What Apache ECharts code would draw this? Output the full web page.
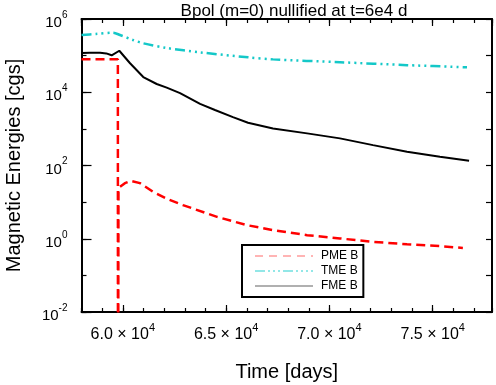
<!DOCTYPE html>
<html>
<head>
<meta charset="utf-8">
<script src="https://cdn.jsdelivr.net/npm/echarts@6/dist/echarts.min.js"></script>
<style>
  html, body { margin: 0; padding: 0; background: #fff; }
  #chart { width: 496px; height: 385px; }
</style>
</head>
<body>
<div id="chart"></div>
<script>
// values
const pmeTime = [58000, 59760, 59765, 59785, 59790, 59860, 60100, 60380, 60830, 61475, 62190, 62910, 64560, 66010, 67270, 68920, 70510, 72110, 73756, 75350, 76460];
const pmeVal  = [7.9e4, 7.9e4, 1e-8, 1e-8, 21, 26, 33, 38, 33, 19, 11.9, 8.3, 3.96, 2.35, 1.72, 1.25, 1.02, 0.82, 0.71, 0.63, 0.56];

const tmeTime = [58000, 58700, 59525, 59864, 60493, 60990, 62140, 63736, 66060, 67270, 70513, 73756, 76660];
const tmeVal  = [3.66e5, 3.9e5, 4.23e5, 3.66e5, 2.67e5, 2.17e5, 1.61e5, 1.23e5, 9.0e4, 7.9e4, 6.6e4, 5.5e4, 4.8e4];

const fmeTime = [58000, 58410, 58900, 59200, 59460, 59830, 60350, 60990, 61640, 62125, 62770, 63740, 64460, 65330, 66060, 67270, 68920, 70510, 72110, 73756, 75350, 76760];
const fmeVal  = [1.18e5, 1.2e5, 1.2e5, 1.15e5, 1.02e5, 1.36e5, 6.2e4, 2.6e4, 1.68e4, 1.34e4, 9.5e3, 4.8e3, 3.27e3, 2.1e3, 1.47e3, 1.03e3, 754, 550, 360, 237, 173, 134];

const seriesNames = ['PME B', 'TME B', 'FME B'];
const xRange = [58000, 77870];
const yRange = [0.01, 1e6];
const yExpTicks = [-2, 6, 2]; // labelled decades: min, max, step

const pairs = (t, v) => t.map((x, i) => [x, v[i]]);

const chart = echarts.init(document.getElementById('chart'));
const font = 'Liberation Sans, Arial, Helvetica, sans-serif';

const majorX = (pos, labels) => ({
  type: 'value', position: pos, min: xRange[0], max: xRange[1], splitNumber: 4,
  axisLine: { show: true, onZero: false, lineStyle: { color: '#000', width: 2 } },
  axisTick: { show: true, inside: true, length: 7, lineStyle: { color: '#000', width: 1.2 } },
  splitLine: { show: false },
  axisLabel: labels ? {
    show: true, margin: 10, showMinLabel: false, showMaxLabel: false,
    formatter: v => '{b|' + (v / 1e4).toFixed(1) + ' × 10}{s|4}',
    rich: {
      b: { fontSize: 16, fontFamily: font, color: '#000', lineHeight: 20, padding: [6, 0, 0, 0] },
      s: { fontSize: 11, fontFamily: font, color: '#000', verticalAlign: 'top', lineHeight: 12 }
    }
  } : { show: false }
});
const minorX = pos => ({
  type: 'value', position: pos, min: xRange[0], max: xRange[1], interval: 1000,
  axisLine: { show: false, onZero: false },
  axisTick: { show: true, inside: true, length: 4, lineStyle: { color: '#000', width: 1.2 } },
  splitLine: { show: false }, axisLabel: { show: false }
});

const option = {
  animation: false,
  textStyle: { fontFamily: font },
  title: {
    text: 'Bpol (m=0) nullified at t=6e4 d',
    left: 289, top: -2, textAlign: 'center',
    textStyle: { fontSize: 17, fontWeight: 'normal', color: '#000', fontFamily: font }
  },
  grid: { left: 81.5, right: 4, top: 19, bottom: 73, containLabel: false, outerBoundsMode: 'none' },
  legend: {
    orient: 'vertical', left: 242, top: 245,
    padding: [5, 5, 5, 12], itemGap: 3, itemWidth: 58, itemHeight: 11,
    borderColor: '#000', borderWidth: 2,
    textStyle: { fontSize: 12, color: '#000', fontFamily: font, padding: [0, 0, 0, 3] },
    data: [
      { name: seriesNames[0], itemStyle: { opacity: 0 }, lineStyle: { color: '#ffb4b4', width: 2, type: [8, 6] } },
      { name: seriesNames[1], itemStyle: { opacity: 0 }, lineStyle: { color: '#6fe0e0', width: 1.5, type: [10, 3, 2, 3, 2, 3, 2, 3] } },
      { name: seriesNames[2], itemStyle: { opacity: 0 }, lineStyle: { color: '#b0b0b0', width: 2, type: 'solid' } }
    ]
  },
  xAxis: [majorX('bottom', true), minorX('bottom'), majorX('top', false), minorX('top')],
  yAxis: [
    {
      type: 'log', logBase: 10, position: 'left', min: yRange[0], max: yRange[1],
      name: 'Magnetic Energies [cgs]', nameLocation: 'middle', nameGap: 57,
      nameTextStyle: { fontSize: 20, color: '#000', fontFamily: font },
      axisLine: { show: true, onZero: false, lineStyle: { color: '#000', width: 2 } },
      axisTick: { show: true, inside: true, length: 5, lineStyle: { color: '#000', width: 1.2 } },
      splitLine: { show: false }, axisLabel: { show: false }
    },
    {
      // decade labels, placed in exponent space
      type: 'value', position: 'left', min: yExpTicks[0], max: yExpTicks[1], interval: yExpTicks[2],
      axisLine: { show: false, onZero: false },
      axisTick: { show: true, inside: true, length: 10, lineStyle: { color: '#000', width: 1.2 } },
      splitLine: { show: false },
      axisLabel: {
        margin: 14,
        formatter: e => '{b|10}{s|' + e + '}',
        rich: {
          b: { fontSize: 15, fontFamily: font, color: '#000', lineHeight: 18, padding: [8, 0, 0, 0] },
          s: { fontSize: 10, fontFamily: font, color: '#000', verticalAlign: 'top', lineHeight: 12 }
        }
      }
    },
    {
      type: 'log', logBase: 10, position: 'right', min: yRange[0], max: yRange[1],
      axisLine: { show: true, onZero: false, lineStyle: { color: '#000', width: 2 } },
      axisTick: { show: true, inside: true, length: 6, lineStyle: { color: '#000', width: 1.2 } },
      splitLine: { show: false }, axisLabel: { show: false }
    }
  ],
  series: [
    {
      name: seriesNames[0], type: 'line', xAxisIndex: 0, yAxisIndex: 0, symbol: 'none', clip: true,
      data: pairs(pmeTime, pmeVal),
      lineStyle: { color: '#ff0000', width: 2.5, type: [9, 5] }, itemStyle: { color: '#ff0000' }
    },
    {
      name: seriesNames[1], type: 'line', xAxisIndex: 0, yAxisIndex: 0, symbol: 'none', clip: true,
      data: pairs(tmeTime, tmeVal), smooth: 0.3,
      lineStyle: { color: '#14c8c8', width: 2.5, type: [10, 4, 2, 4, 2, 4, 2, 4] }, itemStyle: { color: '#14c8c8' }
    },
    {
      name: seriesNames[2], type: 'line', xAxisIndex: 0, yAxisIndex: 0, symbol: 'none', clip: true,
      data: pairs(fmeTime, fmeVal),
      lineStyle: { color: '#000', width: 2 }, itemStyle: { color: '#000' }
    }
  ]
};
Object.assign(option.xAxis[0], {
  name: 'Time [days]', nameLocation: 'middle', nameGap: 50,
  nameTextStyle: { fontSize: 20, color: '#000', fontFamily: font }
});

chart.setOption(option);
</script>
</body>
</html>
